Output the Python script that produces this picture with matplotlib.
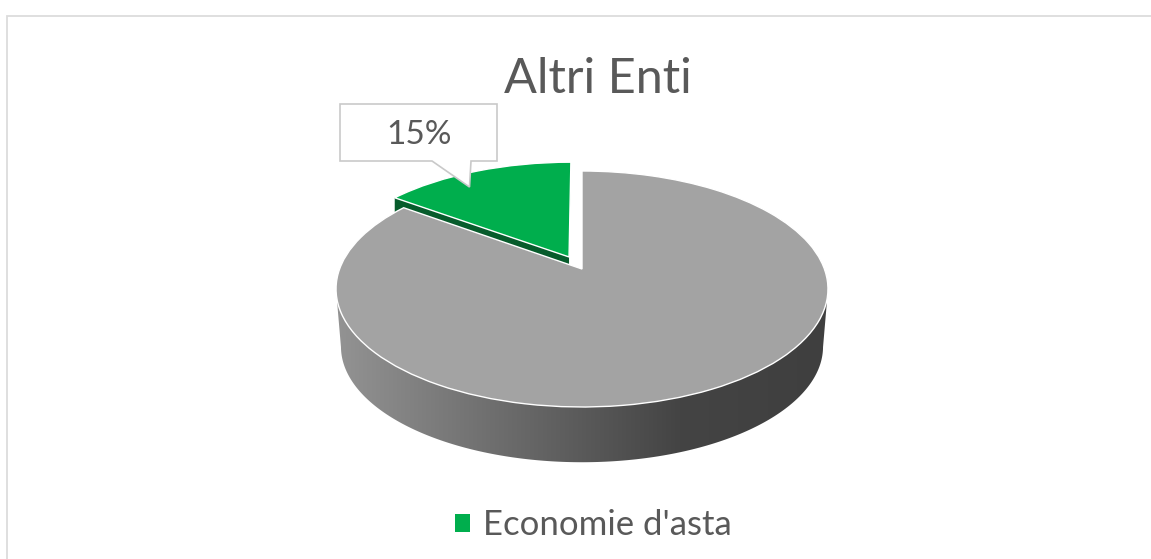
import numpy as np
import matplotlib
matplotlib.use("Agg")
import matplotlib.pyplot as plt
from matplotlib.transforms import Transform
from matplotlib.patches import Polygon, Patch
from matplotlib.colors import LinearSegmentedColormap

# ---- data ----
title = "Altri Enti"
categories = ["Economie d'asta", "Altro"]
shares = [15, 85]
explode = [0.12, 0.0]
label_text = "15%"
legend_labels = ["Economie d'asta"]

GREEN = "#00ae4d"
GREEN_DARK = "#075c2c"
GRAY = "#a3a3a3"
TEXT = "#595959"
plt.rcParams["font.family"] = ["Lato", "DejaVu Sans"]


class DiscProjection(Transform):
    """Perspective view of the unit pie disc, in pixel-like data coordinates."""
    input_dims = 2
    output_dims = 2
    is_separable = False

    def __init__(self, x0=582.0, y0=269.0, a=242.4, b=114.6, k=0.1695, scale=1.0, dy=0.0):
        super().__init__()
        self.p = (x0, y0, a, b, k, scale, dy)

    def transform_non_affine(self, values):
        values = np.asarray(values, dtype=float)
        x0, y0, a, b, k, s, dy = self.p
        w = 1 + k * values[:, 1]
        return np.column_stack([x0 + s * a * values[:, 0] / w,
                                y0 + dy - s * b * values[:, 1] / w])


fig = plt.figure(figsize=(11.51, 5.59), dpi=100, facecolor="white")
ax = fig.add_axes([0, 0, 1, 1])

wedges, _ = ax.pie(shares, startangle=90, explode=explode, colors=[GREEN, GRAY],
                   wedgeprops=dict(edgecolor="white", linewidth=1.0))
ax.set_aspect("auto")
ax.set_xlim(0, 1151)
ax.set_ylim(559, 0)
ax.axis("off")

top = DiscProjection()
bottom = DiscProjection(scale=0.98, dy=58.0)
for w in wedges:
    w.set_transform(top + ax.transData)
    w.set_clip_on(False)
wedges[0].set_zorder(5)
wedges[1].set_zorder(6)

# side wall of the whole pie, shaded left to right
theta = np.linspace(0, 2 * np.pi, 721)
disc = np.column_stack([np.cos(theta), np.sin(theta)])
rim_top = top.transform(disc)
rim_low = bottom.transform(disc)
i_l, i_r = rim_top[:, 0].argmin(), rim_top[:, 0].argmax()
low = rim_low[(disc[:, 1] < -0.1695)]
low = low[np.argsort(low[:, 0])]
side_pts = np.vstack([rim_top[i_l], low, rim_top[i_r]])
side = Polygon(side_pts, closed=True, transform=ax.transData, facecolor="none", edgecolor="none")
ax.add_patch(side)
cmap = LinearSegmentedColormap.from_list("side", [
    (0.00, "#939393"), (0.25, "#767676"), (0.50, "#5a5a5a"),
    (0.70, "#444444"), (1.00, "#3f3f3f")])
img = ax.imshow(np.linspace(0, 1, 256)[None, :], extent=(337, 827, 470, 280),
                cmap=cmap, aspect="auto", zorder=2)
img.set_clip_path(side)
ax.set_xlim(0, 1151)
ax.set_ylim(559, 0)

# side wall of the detached slice (mostly hidden by the grey top)
ang1 = np.deg2rad(90 + 360 * shares[0] / sum(shares))
mid = np.deg2rad(90 + 180 * shares[0] / sum(shares))
off = explode[0] * np.array([np.cos(mid), np.sin(mid)])
edge = top.transform(np.array([off + [np.cos(ang1), np.sin(ang1)], off]))
ax.add_patch(Polygon(np.vstack([edge, edge[::-1] + [0, 14]]), closed=True,
                     facecolor=GREEN_DARK, edgecolor="none", zorder=4))

# callout
callout = [(340, 104), (497, 104), (497, 161), (471, 161), (469.5, 187), (432, 161), (340, 161)]
ax.add_patch(Polygon(callout, closed=True, facecolor="white", edgecolor="#c9c9c9",
                     linewidth=1.2, zorder=8, joinstyle="miter"))
ax.text(419, 135.5, label_text, ha="center", va="center", fontsize=24, color=TEXT, zorder=9)

ax.text(597.5, 79, title, ha="center", va="center", fontsize=35, color=TEXT)

# chart frame
ax.plot([7, 7, 1151], [559, 15.5, 15.5], color="#dcdcdc", lw=1.3, solid_joinstyle="miter")

leg = ax.legend([Patch(facecolor=GREEN, edgecolor="none")], legend_labels,
                loc="center", bbox_to_anchor=(593.5, 525), bbox_transform=ax.transData,
                frameon=False, fontsize=25, labelcolor=TEXT, handlelength=0.43,
                handleheight=0.43, handletextpad=0.37, borderpad=0)

fig.savefig("out.png", dpi=100, facecolor="white")
